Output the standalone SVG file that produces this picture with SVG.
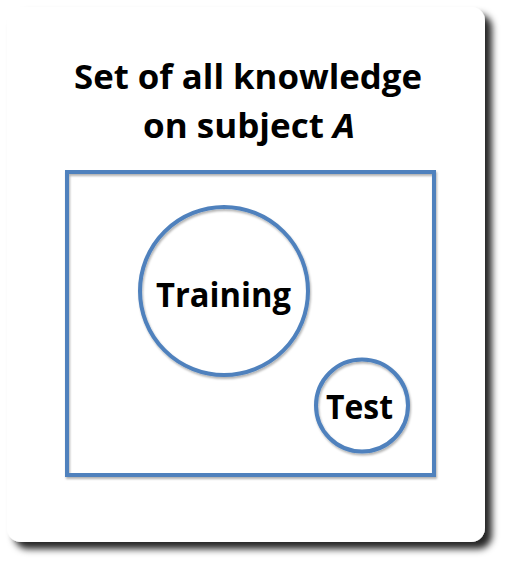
<svg xmlns="http://www.w3.org/2000/svg" width="508" height="566" viewBox="0 0 508 566">
<defs>
<filter id="cardShadow" x="-10%" y="-10%" width="125%" height="125%">
<feDropShadow dx="7" dy="7" stdDeviation="3.5" flood-color="#000" flood-opacity="0.85"/>
</filter>
<filter id="softShadow" x="-10%" y="-10%" width="125%" height="125%">
<feDropShadow dx="1" dy="2" stdDeviation="1.2" flood-color="#000" flood-opacity="0.3"/>
</filter>
</defs>
<style>
.shape{fill:none;stroke:#4F81BD;stroke-width:4}
.lbl{font-family:"Open Sans","Liberation Sans",Arial,sans-serif;font-weight:bold;font-size:34px;fill:#000;text-anchor:middle}
</style>
<rect width="508" height="566" fill="#fff"/>
<g id="card">
<rect x="7" y="7" width="478" height="535" rx="14" ry="14" fill="#fff" filter="url(#cardShadow)"/>
<text class="lbl" x="248" y="89" textLength="348" lengthAdjust="spacingAndGlyphs">Set of all knowledge</text>
<text class="lbl" x="249" y="138" textLength="212" lengthAdjust="spacingAndGlyphs">on subject <tspan font-style="italic">A</tspan></text>
</g>
<g id="knowledge-set">
<rect class="shape" x="67" y="172" width="367" height="303" filter="url(#softShadow)"/>
</g>
<g id="training">
<circle class="shape" cx="224" cy="291" r="84" filter="url(#softShadow)"/>
<text class="lbl" x="223.5" y="307" textLength="135" lengthAdjust="spacingAndGlyphs">Training</text>
</g>
<g id="test">
<circle class="shape" cx="362" cy="405.5" r="46" filter="url(#softShadow)"/>
<text class="lbl" x="359.5" y="419" textLength="67" lengthAdjust="spacingAndGlyphs">Test</text>
</g>
<g id="connectors"/>
</svg>
